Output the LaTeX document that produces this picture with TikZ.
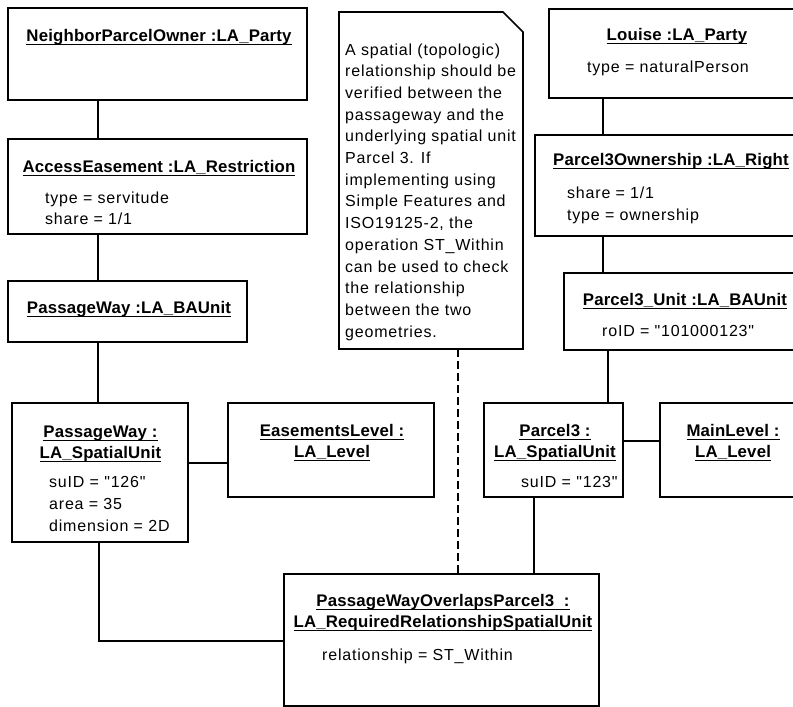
\documentclass[tikz,border=0pt]{standalone}
\usepackage{fontspec}
\setmainfont{Liberation Sans}
\newfontfamily\attrfam[LetterSpace=5]{Liberation Sans}
\newfontfamily\titlefam[LetterSpace=1]{Liberation Sans}
\newcommand\ulin[1]{\setbox0\hbox{#1}\rlap{\rule[-4pt]{\wd0}{1.3pt}}\box0}
\begin{document}
\begin{tikzpicture}[x=1pt,y=-1pt,
  box/.style={draw=black, line width=1.6pt, rectangle, inner sep=0pt, outer sep=0pt, fill=white},
  conn/.style={draw=black, line width=1.3pt},
  dconn/.style={draw=black, line width=1.3pt, dash pattern=on 8pt off 4pt},
  ttl/.style={inner sep=0pt, anchor=base, font=\titlefam\bfseries\fontsize{16.8}{19}\selectfont},
  attr/.style={inner sep=0pt, anchor=base west, font=\attrfam\fontsize{16}{19}\selectfont},
  ntxt/.style={inner sep=0pt, anchor=base west, font=\attrfam\fontsize{16}{19}\selectfont}]
\useasboundingbox (0,0) rectangle (793,707);
\clip (0,0) rectangle (793,707);
\fill[white] (0,0) rectangle (793,707);
% node frames
\node[minimum width=299pt, minimum height=92pt, inner sep=0pt, outer sep=0pt] (npo) at (157.5,54) {};
\node[minimum width=299pt, minimum height=95pt, inner sep=0pt, outer sep=0pt] (ae) at (157.5,186.5) {};
\node[minimum width=239pt, minimum height=61pt, inner sep=0pt, outer sep=0pt] (pwb) at (127.5,311.5) {};
\node[minimum width=176pt, minimum height=139pt, inner sep=0pt, outer sep=0pt] (pwsu) at (100,472.5) {};
\node[minimum width=206pt, minimum height=94pt, inner sep=0pt, outer sep=0pt] (el) at (331,450) {};
\node[minimum width=257pt, minimum height=89pt, inner sep=0pt, outer sep=0pt] (louise) at (677.5,53.5) {};
\node[minimum width=271pt, minimum height=101pt, inner sep=0pt, outer sep=0pt] (own) at (670.5,185.5) {};
\node[minimum width=242pt, minimum height=77pt, inner sep=0pt, outer sep=0pt] (pu) at (685,311.5) {};
\node[minimum width=139pt, minimum height=94pt, inner sep=0pt, outer sep=0pt] (p3) at (553.5,450) {};
\node[minimum width=146pt, minimum height=94pt, inner sep=0pt, outer sep=0pt] (ml) at (733,450) {};
\node[minimum width=315pt, minimum height=132pt, inner sep=0pt, outer sep=0pt] (rel) at (441.5,640) {};
\node[minimum width=184pt, minimum height=337pt, inner sep=0pt, outer sep=0pt] (note) at (431,180.5) {};

% connectors
\draw[conn] (npo.south -| 98,0) -- (ae.north -| 98,0);
\draw[conn] (ae.south -| 98,0) -- (pwb.north -| 98,0);
\draw[conn] (pwb.south -| 98,0) -- (pwsu.north -| 98,0);
\draw[conn] (pwsu.east |- 0,463) -- (el.west |- 0,463);
\draw[conn] (pwsu.south -| 99,0) -- (99,641) -- (rel.west |- 0,641);
\draw[dconn] (note.south -| 458,0) -- (rel.north -| 458,0);
\draw[conn] (louise.south -| 603,0) -- (own.north -| 603,0);
\draw[conn] (own.south -| 603,0) -- (pu.north -| 603,0);
\draw[conn] (pu.south -| 608,0) -- (p3.north -| 608,0);
\draw[conn] (p3.east |- 0,441) -- (ml.west |- 0,441);
\draw[conn] (p3.south -| 534,0) -- (rel.north -| 534,0);

% boxes
\foreach \b in {npo,ae,pwb,pwsu,el,louise,own,pu,p3,ml,rel}
  \draw[box] (\b.south west) rectangle (\b.north east);
\draw[box] (note.north west) -- (503,12) -- (523,32) -- (note.south east) -- (note.south west) -- cycle;

% titles and attributes
\node[ttl] (npo-t) at (159,41) {\ulin{NeighborParcelOwner :LA\_Party}};
\node[ttl] (ae-t) at (159,172) {\ulin{AccessEasement :LA\_Restriction}};
\node[attr] (ae-a1) at (45,203) {type = servitude};
\node[attr] (ae-a2) at (45,224) {share = 1/1};
\node[ttl] (pwb-t) at (129,313) {\ulin{PassageWay :LA\_BAUnit}};
\node[ttl] (pwsu-t1) at (100.5,437) {\ulin{PassageWay :}};
\node[ttl] (pwsu-t2) at (100.5,458) {\ulin{LA\_SpatialUnit}};
\node[attr] (pwsu-a1) at (49,487) {suID = "126"};
\node[attr] (pwsu-a2) at (49,509) {area = 35};
\node[attr] (pwsu-a3) at (49,531) {dimension = 2D};
\node[ttl] (el-t1) at (332,436) {\ulin{EasementsLevel :}};
\node[ttl] (el-t2) at (332,457) {\ulin{LA\_Level}};
\node[ttl] (louise-t) at (677,40) {\ulin{Louise :LA\_Party}};
\node[attr] (louise-a1) at (587,72) {type = naturalPerson};
\node[ttl] (own-t) at (671,165) {\ulin{Parcel3Ownership :LA\_Right}};
\node[attr] (own-a1) at (567,198) {share = 1/1};
\node[attr] (own-a2) at (567,220) {type = ownership};
\node[ttl] (pu-t) at (685,305) {\ulin{Parcel3\_Unit :LA\_BAUnit}};
\node[attr] (pu-a1) at (602,336) {roID = "101000123"};
\node[ttl] (p3-t1) at (555,436) {\ulin{Parcel3 :}};
\node[ttl] (p3-t2) at (555,457) {\ulin{LA\_SpatialUnit}};
\node[attr] (p3-a1) at (521,487) {suID = "123"};
\node[ttl] (ml-t1) at (733,436) {\ulin{MainLevel :}};
\node[ttl] (ml-t2) at (733,457) {\ulin{LA\_Level}};
\node[ttl] (rel-t1) at (443,606) {\ulin{PassageWayOverlapsParcel3\ \ :}};
\node[ttl] (rel-t2) at (443,627) {\ulin{LA\_RequiredRelationshipSpatialUnit}};
\node[attr] (rel-a1) at (322,660) {relationship = ST\_Within};

% note text
\foreach \t [count=\i] in {A spatial (topologic), relationship should be, verified between the, passageway and the, underlying spatial unit, Parcel 3. If, implementing using, Simple Features and, {ISO19125-2, the}, operation ST\_Within, can be used to check, the relationship, between the two, geometries.}
  \node[ntxt] (nl\i) at (345,{55+21.7*(\i-1)}) {\t};
\end{tikzpicture}
\end{document}
